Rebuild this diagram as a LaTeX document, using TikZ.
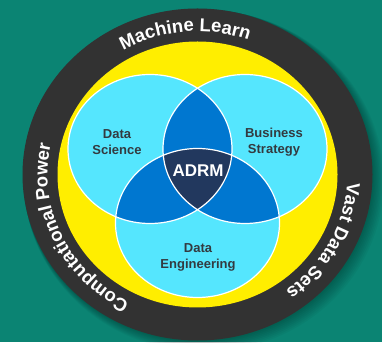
\documentclass[tikz,border=0pt]{standalone}
\usepackage{fontspec}
\setmainfont{Liberation Sans}
\usetikzlibrary{decorations.text}
\definecolor{bgteal}{HTML}{0B8473}
\definecolor{ringdark}{HTML}{323232}
\definecolor{ringyellow}{HTML}{FFEE00}
\definecolor{venncyan}{HTML}{55E6FE}
\definecolor{vennblue}{HTML}{0077D0}
\definecolor{vennnavy}{HTML}{22385E}
\definecolor{labelgray}{HTML}{333A40}
\tikzset{
  vennlabel/.style={align=center, text=labelgray, font=\bfseries\fontsize{13}{16}\selectfont},
  ringtext/.style={decorate, decoration={text along path, text align=center, text color=white, text={#1}}},
  vennline/.style={draw=white, line width=1.2pt}
}
\begin{document}
\begin{tikzpicture}[x=1pt,y=1pt]
\useasboundingbox (0,0) rectangle (382,342);
\fill[bgteal] (0,0) rectangle (382,342);
\coordinate (ctr) at (197.5,167.5);
\begin{scope}
\clip (0,0) rectangle (382,342);
% soft shadow
\foreach \i in {1,...,8}{
  \fill[black, opacity=0.035] (197.5+0.8*\i,167.5-0.8*\i) ellipse [x radius=175+0.6*\i, y radius=166+0.6*\i];
}
\fill[ringdark] (ctr) ellipse [x radius=175, y radius=166];
\fill[ringyellow] (ctr) ellipse [x radius=140, y radius=133];
\end{scope}
% Venn
\coordinate (cl) at (150,193);
\coordinate (cr) at (245,193);
\coordinate (cb) at (197.5,119);
\def\rx{82}\def\ry{74.5}
\fill[venncyan] (cl) ellipse [x radius=\rx, y radius=\ry];
\fill[venncyan] (cr) ellipse [x radius=\rx, y radius=\ry];
\fill[venncyan] (cb) ellipse [x radius=\rx, y radius=\ry];
\begin{scope}
\clip (cl) ellipse [x radius=\rx, y radius=\ry];
\fill[vennblue] (cr) ellipse [x radius=\rx, y radius=\ry];
\fill[vennblue] (cb) ellipse [x radius=\rx, y radius=\ry];
\end{scope}
\begin{scope}
\clip (cr) ellipse [x radius=\rx, y radius=\ry];
\fill[vennblue] (cb) ellipse [x radius=\rx, y radius=\ry];
\end{scope}
\begin{scope}
\clip (cl) ellipse [x radius=\rx, y radius=\ry];
\clip (cr) ellipse [x radius=\rx, y radius=\ry];
\fill[vennnavy] (cb) ellipse [x radius=\rx, y radius=\ry];
\end{scope}
\draw[vennline] (cl) ellipse [x radius=\rx, y radius=\ry];
\draw[vennline] (cr) ellipse [x radius=\rx, y radius=\ry];
\draw[vennline] (cb) ellipse [x radius=\rx, y radius=\ry];
% labels
\node[vennlabel] (ds) at (117,200) {Data\\Science};
\node[vennlabel] (bs) at (274,200) {Business\\Strategy};
\node[vennlabel] (de) at (198,85) {Data\\Engineering};
\node[text=white, font=\bfseries\fontsize{17}{17}\selectfont] (adrm) at (198,171) {ADRM};
% ring texts
\path[ringtext={|\bfseries\fontsize{18.5}{18.5}\selectfont|Machine Learn}]
  (ctr) ++(155:150pt and 143pt) arc[start angle=155, end angle=35, x radius=150pt, y radius=143pt];
\path[ringtext={|\bfseries\fontsize{18.5}{18.5}\selectfont|Computational Power}]
  (ctr) ++(265:150pt and 143pt) arc[start angle=265, end angle=145, x radius=150pt, y radius=143pt];
\path[ringtext={|\bfseries\fontsize{18.5}{18.5}\selectfont|Vast Data Sets}]
  (ctr) ++(32:150pt and 143pt) arc[start angle=32, end angle=-88, x radius=150pt, y radius=143pt];
\end{tikzpicture}
\end{document}
